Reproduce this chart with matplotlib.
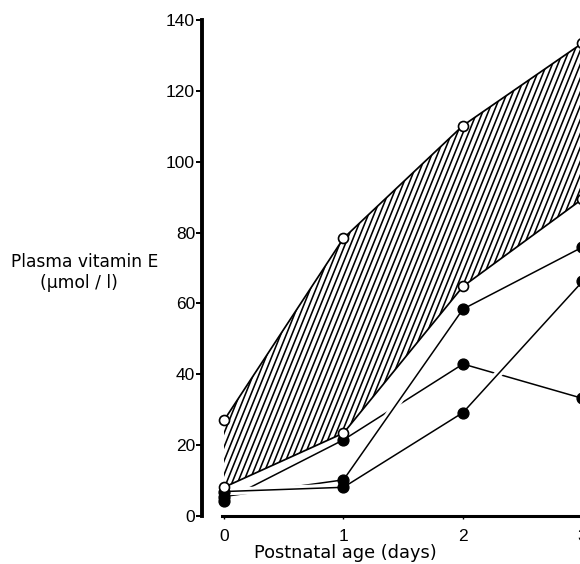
import numpy as np
import matplotlib
matplotlib.use("Agg")
import matplotlib.pyplot as plt
import matplotlib.patheffects as pe
from matplotlib.collections import LineCollection
from matplotlib.transforms import IdentityTransform

# ---- data ----
days = [0, 1, 2, 3]
band_upper = [27, 78.4, 110.2, 133.5]
band_lower = [8.1, 23.4, 64.8, 89.5]
infant_a = [4.3, 21.5, 42.9, 33.2]   # broken line, peaks at day 2
infant_b = [5.5, 10.2, 58.4, 75.9]
infant_c = [6.9, 8.1, 29.2, 66.2]
y_ticks = [0, 20, 40, 60, 80, 100, 120, 140]
x_ticks = [0, 1, 2, 3]

plt.rcParams['font.family'] = ['Liberation Sans', 'DejaVu Sans']

W, H = 580, 564
fig = plt.figure(figsize=(W / 100, H / 100), dpi=100)

ppd = 119.5          # pixels per day
x0_px = 224
ppu = 3.543          # pixels per unit
y0_px = 516
left_px = 202
xmin = (left_px - x0_px) / ppd
xmax = 3.1
ymax = 141
ax = fig.add_axes([left_px / W, (H - y0_px) / H,
                   (xmax - xmin) * ppd / W, ymax * ppu / H])
ax.set_xlim(xmin, xmax)
ax.set_ylim(0, ymax)

# hatched band
poly = ax.fill_between(days, band_lower, band_upper, facecolor='none',
                       edgecolor='none', lw=0)
clip = poly.get_paths()[0]
ang = np.deg2rad(68)
dx = H / np.tan(ang)
spacing = 5.6
segs = [[(c, 0), (c + dx, H)] for c in np.arange(-400, W + 50, spacing)]
lc = LineCollection(segs, transform=IdentityTransform(), colors='black',
                    linewidths=1.15)
lc.set_clip_path(clip, ax.transData)
ax.add_collection(lc)

halo = [pe.Stroke(linewidth=5.5, foreground='white'), pe.Normal()]
for ser in (infant_a, infant_b, infant_c):
    ax.plot(days, ser, color='black', lw=1.1, path_effects=halo,
            solid_capstyle='butt', zorder=3, clip_on=False)

for ser in (band_upper, band_lower):
    ax.plot(days, ser, color='black', lw=1.25, zorder=4, clip_on=False)

for ser in (infant_a, infant_b, infant_c):
    ax.plot(days, ser, 'o', ms=7.8, mfc='black', mec='black', zorder=5,
            clip_on=False)
for ser in (band_upper, band_lower):
    ax.plot(days, ser, 'o', ms=7.2, mfc='white', mec='black', mew=1.2,
            zorder=6, clip_on=False)

# axes styling
for s in ('top', 'right'):
    ax.spines[s].set_visible(False)
ax.spines['left'].set_linewidth(2.8)
ax.spines['left'].set_bounds(0, 140)
ax.spines['bottom'].set_linewidth(2.2)
ax.spines['bottom'].set_bounds(-0.02, xmax)
ax.set_yticks(y_ticks)
ax.set_xticks(x_ticks)
ax.tick_params(axis='y', direction='out', length=4.5, width=1.4, pad=0.5,
               labelsize=12.5)
ax.tick_params(axis='x', direction='out', length=2.5, width=1.0, pad=7,
               labelsize=12.5)

lab = ['DejaVu Sans']
fig.text(85 / W, 1 - 262 / H, 'Plasma vitamin E', ha='center', va='center',
         fontsize=12.3, family=lab)
fig.text(79 / W, 1 - 283 / H, '(μmol / l)', ha='center', va='center',
         fontsize=12.3, family=lab)
fig.text(345 / W, 1 - 553 / H, 'Postnatal age (days)', ha='center',
         va='center', fontsize=12.8, family=lab)

fig.savefig('out.png', dpi=100)
